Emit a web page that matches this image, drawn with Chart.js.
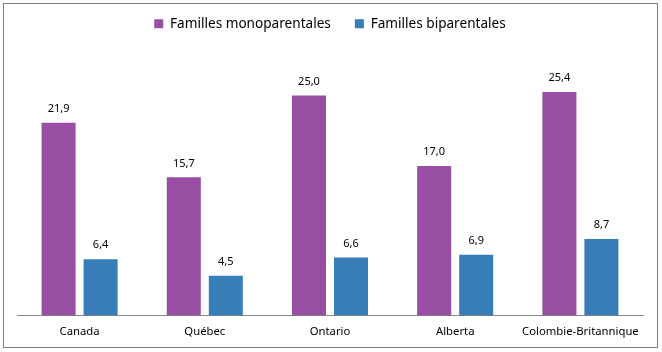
<!DOCTYPE html>
<html lang="fr">
<head>
<meta charset="UTF-8">
<title>Familles monoparentales et biparentales</title>
<script src="https://cdn.jsdelivr.net/npm/chart.js"></script>
<style>
    body { margin: 0; background: #fff; }
    .wrap { position: relative; width: 662px; height: 352px; }
    .frame { position: absolute; left: 3px; top: 3px; width: 653px; height: 343px; border: 1px solid #7f7f7f; }
    canvas { position: absolute; left: 0; top: 0; }
</style>
</head>
<body>
<div class="wrap">
    <div class="frame"></div>
    <canvas id="chart" width="662" height="352"></canvas>
</div>
<script>
// data
var regions = ['Canada', 'Québec', 'Ontario', 'Alberta', 'Colombie-Britannique'];
var monoparentales = [21.9, 15.7, 25.0, 17.0, 25.4];
var biparentales = [6.4, 4.5, 6.6, 6.9, 8.7];

var fontFamily = "'Noto Sans', 'Open Sans', sans-serif";

// value labels above bars, french decimal comma
var valueLabels = {
    id: 'valueLabels',
    afterDatasetsDraw: function(chart) {
        var ctx = chart.ctx;
        ctx.save();
        ctx.font = '11px ' + fontFamily;
        ctx.fillStyle = '#000';
        ctx.textAlign = 'center';
        ctx.textBaseline = 'middle';
        chart.data.datasets.forEach(function(ds, i) {
            chart.getDatasetMeta(i).data.forEach(function(bar, j) {
                var txt = ds.data[j].toFixed(1).replace('.', ',');
                ctx.fillText(txt, bar.x, bar.y - 14);
            });
        });
        ctx.restore();
    }
};

// extra room under the legend
var legendGap = {
    id: 'legendGap',
    beforeInit: function(chart) {
        var fit = chart.legend.fit;
        chart.legend.fit = function() {
            fit.bind(chart.legend)();
            this.height += 11;
        };
    }
};

new Chart(document.getElementById('chart'), {
    type: 'bar',
    data: {
        labels: regions,
        datasets: [{
            label: 'Familles monoparentales',
            data: monoparentales,
            backgroundColor: '#984ea3'
        }, {
            label: 'Familles biparentales',
            data: biparentales,
            backgroundColor: '#377eb8'
        }]
    },
    options: {
        responsive: false,
        animation: false,
        categoryPercentage: 0.671,
        barPercentage: 0.81,
        layout: { padding: { top: -7, left: 17, right: 19, bottom: 3 } },
        plugins: {
            tooltip: { enabled: false },
            legend: {
                position: 'top',
                labels: {
                    boxWidth: 9,
                    boxHeight: 9,
                    padding: 24,
                    color: '#000',
                    font: { family: fontFamily, size: 13.6 }
                }
            }
        },
        scales: {
            x: {
                grid: { display: false, drawTicks: false },
                border: { display: true, color: '#868686' },
                ticks: { color: '#000', padding: 10, font: { family: fontFamily, size: 11.3 } }
            },
            y: {
                display: false,
                min: 0,
                max: 30
            }
        }
    },
    plugins: [valueLabels, legendGap]
});
</script>
</body>
</html>
